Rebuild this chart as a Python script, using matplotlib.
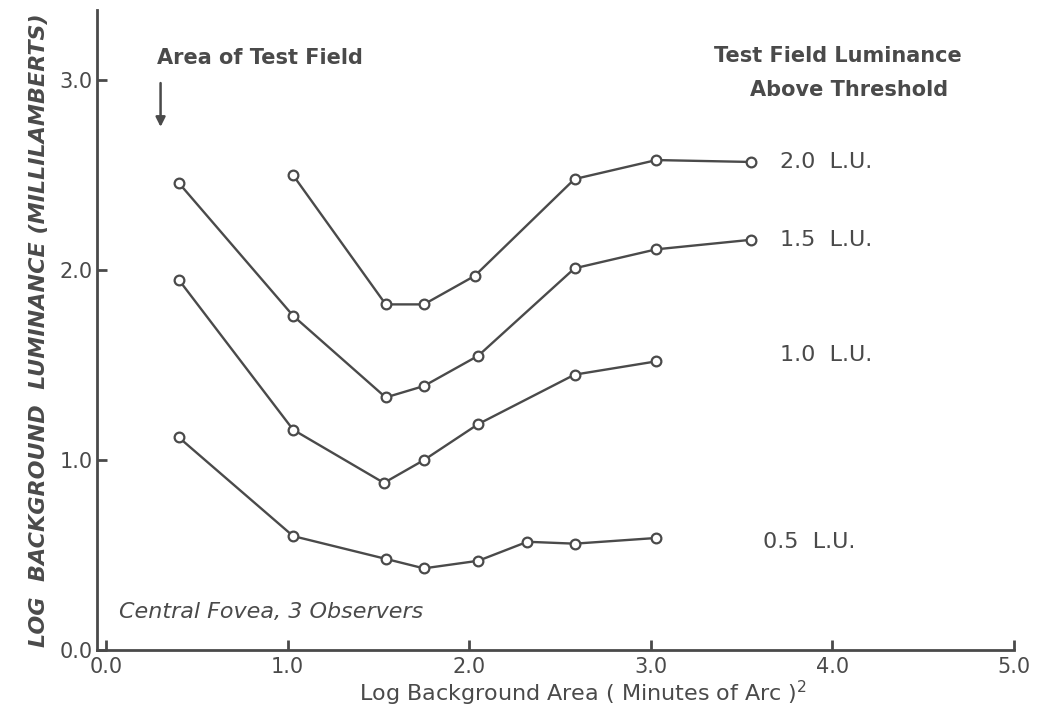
# Log background luminance vs log background area, four test-field luminances
import matplotlib
matplotlib.use("Agg")
import matplotlib.pyplot as plt

# data
x_20 = [1.03, 1.54, 1.75, 2.03, 2.58, 3.03, 3.55]
y_20 = [2.50, 1.82, 1.82, 1.97, 2.48, 2.58, 2.57]

x_15 = [0.40, 1.03, 1.54, 1.75, 2.05, 2.58, 3.03, 3.55]
y_15 = [2.46, 1.76, 1.33, 1.39, 1.55, 2.01, 2.11, 2.16]

x_10 = [0.40, 1.03, 1.53, 1.75, 2.05, 2.58, 3.03]
y_10 = [1.95, 1.16, 0.88, 1.00, 1.19, 1.45, 1.52]

x_05 = [0.40, 1.03, 1.54, 1.75, 2.05, 2.32, 2.58, 3.03]
y_05 = [1.12, 0.60, 0.48, 0.43, 0.47, 0.57, 0.56, 0.59]

series_labels = ["2.0  L.U.", "1.5  L.U.", "1.0  L.U.", "0.5  L.U."]
x_ticks = [0, 1, 2, 3, 4, 5]
y_ticks = [0, 1, 2, 3]

ink = "#4a4a4a"
plt.rcParams["font.family"] = ["DejaVu Sans"]

fig = plt.figure(figsize=(10.5, 7.22), dpi=100)
ax = fig.add_axes([0.0924, 0.0997, 0.8733, 0.8864])

for xs, ys in [(x_20, y_20), (x_15, y_15), (x_10, y_10), (x_05, y_05)]:
    ax.plot(xs, ys, color=ink, lw=1.7, marker="o", ms=7, mfc="white",
            mec=ink, mew=1.6)

ax.set_xlim(-0.05, 5.0)
ax.set_ylim(0, 3.37)

for s in ["top", "right"]:
    ax.spines[s].set_visible(False)
for s in ["left", "bottom"]:
    ax.spines[s].set_color(ink)
    ax.spines[s].set_linewidth(2)

ax.set_xticks(x_ticks)
ax.set_xticklabels([f"{v:.1f}" for v in x_ticks])
ax.set_yticks(y_ticks)
ax.set_yticklabels([f"{v:.1f}" for v in y_ticks])
ax.tick_params(direction="in", length=7, width=2, color=ink,
               labelcolor=ink, labelsize=15)
ax.tick_params(axis="x", pad=5)
ax.tick_params(axis="y", pad=3)

ax.set_xlabel("Log Background Area ( Minutes of Arc )$^2$", fontsize=16,
              color=ink, labelpad=2)
ax.xaxis.set_label_coords(0.53, -0.045)
ax.set_ylabel("LOG  BACKGROUND  LUMINANCE (MILLILAMBERTS)", fontsize=16,
              color=ink, style="italic", fontweight="bold", labelpad=8)

# series labels at the right
label_pos = [(3.71, 2.57), (3.71, 2.16), (3.71, 1.555), (3.62, 0.57)]
for lab, (lx, ly) in zip(series_labels, label_pos):
    ax.text(lx, ly, lab, fontsize=16, color=ink, va="center", ha="left")

ax.text(4.03, 3.13, "Test Field Luminance", fontsize=15, color=ink,
        fontweight="bold", ha="center", va="center")
ax.text(4.09, 2.95, "Above Threshold", fontsize=15, color=ink,
        fontweight="bold", ha="center", va="center")

ax.text(0.28, 3.12, "Area of Test Field", fontsize=15, color=ink,
        fontweight="bold", ha="left", va="center")
ax.annotate("", xy=(0.3, 2.74), xytext=(0.3, 3.0),
            arrowprops=dict(arrowstyle="-|>", color=ink, lw=1.8,
                            mutation_scale=14))

ax.text(0.07, 0.2, "Central Fovea, 3 Observers", fontsize=16, color=ink,
        style="italic", ha="left", va="center")

fig.savefig("out.png", dpi=100)
